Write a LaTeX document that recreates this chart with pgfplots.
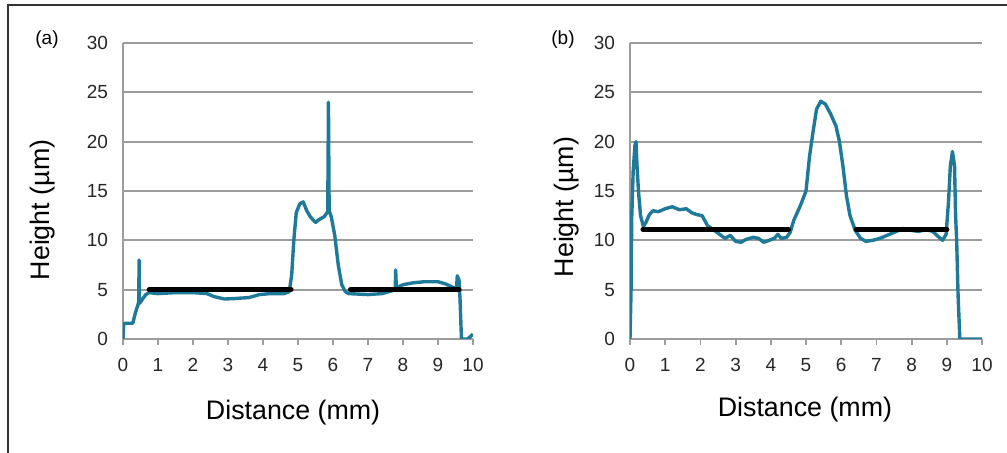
\documentclass[border=0pt]{standalone}
\usepackage{fontspec}
\setmainfont{Liberation Sans}
\usepackage{pgfplots}
\pgfplotsset{compat=1.18}
\definecolor{profile}{HTML}{1F7A99}
\definecolor{gridgray}{HTML}{9C9C9C}
\definecolor{ticktext}{HTML}{262626}

\pgfplotsset{
  profstyle/.style={
    scale only axis,
    width=175pt, height=148pt,
    xmin=0, xmax=10, ymin=0, ymax=30,
    xtick={0,1,...,10}, ytick={0,5,...,30},
    axis x line*=bottom, axis y line*=left,
    axis line style={-, draw=gridgray, line width=1.1pt},
    ymajorgrids, grid style={draw=gridgray, line width=1.1pt},
    tick align=outside,
    x tick style={draw=gridgray, line width=0.9pt},
    major tick length=3pt,
    y tick style={draw=none},
    tick label style={font=\fontsize{9.5}{10}\selectfont, text=ticktext},
    /pgf/number format/assume math mode=true,
    xticklabel style={yshift=-3pt},
    yticklabel style={xshift=-1pt},
    label style={font=\fontsize{13.4}{15}\selectfont},
    xlabel={Distance (mm)},
    ylabel={Height (\textmu m)},
    every axis plot/.append style={line join=round},
  }
}

\begin{document}
\begin{tikzpicture}
  \path[use as bounding box] (0,0) rectangle (503.5pt,226.5pt);
  % frame
  \draw[line width=1.1pt, color=black!80] (4pt,0) -- (4pt,224pt) -- (503.5pt,224pt);

  % (a)
  \begin{axis}[profstyle,
    at={(61.5pt,57pt)}, anchor=south west,
    ylabel style={at={(axis description cs:-0.229,0.436)}, anchor=center},
    xlabel style={at={(axis description cs:0.486,-0.25)}, anchor=center}]
    \addplot[color=profile, line width=1.7pt] coordinates {
      (0,0) (0.02,1.5) (0.05,1.6) (0.28,1.6) (0.35,2.6) (0.43,3.5) (0.45,3.8)
      (0.46,8.0) (0.47,3.6) (0.55,4.0) (0.65,4.5) (0.75,4.7) (1.0,4.6) (1.5,4.7)
      (2.0,4.7) (2.4,4.6) (2.6,4.3) (2.9,4.05) (3.2,4.1) (3.6,4.2) (3.9,4.5)
      (4.2,4.6) (4.6,4.6) (4.75,4.8) (4.82,6.5) (4.88,10) (4.95,12.8) (5.05,13.7)
      (5.15,13.9) (5.25,13.0) (5.35,12.4) (5.5,11.8) (5.6,12.1) (5.75,12.4)
      (5.85,12.9) (5.87,24.0) (5.89,13.0) (5.95,12.4) (6.05,10.5) (6.15,7.5)
      (6.25,5.5) (6.35,4.8) (6.45,4.6) (7.0,4.5) (7.4,4.6) (7.7,4.9) (7.78,5.1)
      (7.79,7.0) (7.81,5.2) (8.0,5.5) (8.3,5.7) (8.6,5.8) (9.0,5.8) (9.2,5.6)
      (9.45,5.2) (9.53,5.1) (9.55,6.4) (9.6,6.0) (9.63,4.0) (9.67,0) (9.85,0)
      (10,0.5)
    };
    \addplot[black, line width=2.6pt, line cap=round] coordinates {(0.75,5) (4.8,5)};
    \addplot[black, line width=2.6pt, line cap=round] coordinates {(6.5,5) (9.6,5)};
  \end{axis}
  \node[font=\fontsize{9.5}{10}\selectfont] at (23.5pt,206.5pt) {(a)};

  % (b)
  \begin{axis}[profstyle,
    at={(315pt,57pt)}, anchor=south west, width=176pt,
    ylabel style={at={(axis description cs:-0.179,0.446)}, anchor=center},
    xlabel style={at={(axis description cs:0.497,-0.24)}, anchor=center}]
    \addplot[color=profile, line width=1.7pt] coordinates {
      (0,0) (0.03,5) (0.05,12.4) (0.09,17) (0.14,19.6) (0.17,20.0) (0.2,17.5)
      (0.24,15) (0.3,12.5) (0.38,11.4) (0.45,11.8) (0.55,12.6) (0.65,13.0)
      (0.8,12.9) (1.0,13.2) (1.2,13.4) (1.4,13.1) (1.6,13.2) (1.75,12.8)
      (1.9,12.6) (2.05,12.5) (2.2,11.5) (2.4,11.0) (2.55,10.6) (2.7,10.2)
      (2.85,10.5) (3.0,9.9) (3.15,9.8) (3.3,10.1) (3.5,10.3) (3.65,10.2)
      (3.8,9.8) (3.95,10.0) (4.1,10.2) (4.2,10.6) (4.3,10.2) (4.45,10.3)
      (4.55,10.8) (4.65,12.0) (4.85,13.6) (5.0,15.0) (5.1,18.5) (5.2,21.0)
      (5.3,23.3) (5.42,24.1) (5.55,23.8) (5.7,22.8) (5.85,21.6) (5.95,20.0)
      (6.05,17.5) (6.15,14.5) (6.25,12.5) (6.4,11.0) (6.55,10.2) (6.7,9.9)
      (6.9,10.0) (7.1,10.2) (7.3,10.5) (7.5,10.8) (7.75,11.2) (8.0,11.0)
      (8.2,10.9) (8.4,11.1) (8.6,10.9) (8.75,10.4) (8.88,10.0) (8.98,10.6)
      (9.05,14) (9.1,17.5) (9.16,19.0) (9.22,17.5) (9.25,12.5) (9.28,10.0)
      (9.32,4.5) (9.37,0) (10,0)
    };
    \addplot[black, line width=2.6pt, line cap=round] coordinates {(0.37,11.1) (4.5,11.1)};
    \addplot[black, line width=2.6pt, line cap=round] coordinates {(6.43,11.1) (9.0,11.1)};
  \end{axis}
  \node[font=\fontsize{9.5}{10}\selectfont] at (281.5pt,206.5pt) {(b)};
\end{tikzpicture}
\end{document}
